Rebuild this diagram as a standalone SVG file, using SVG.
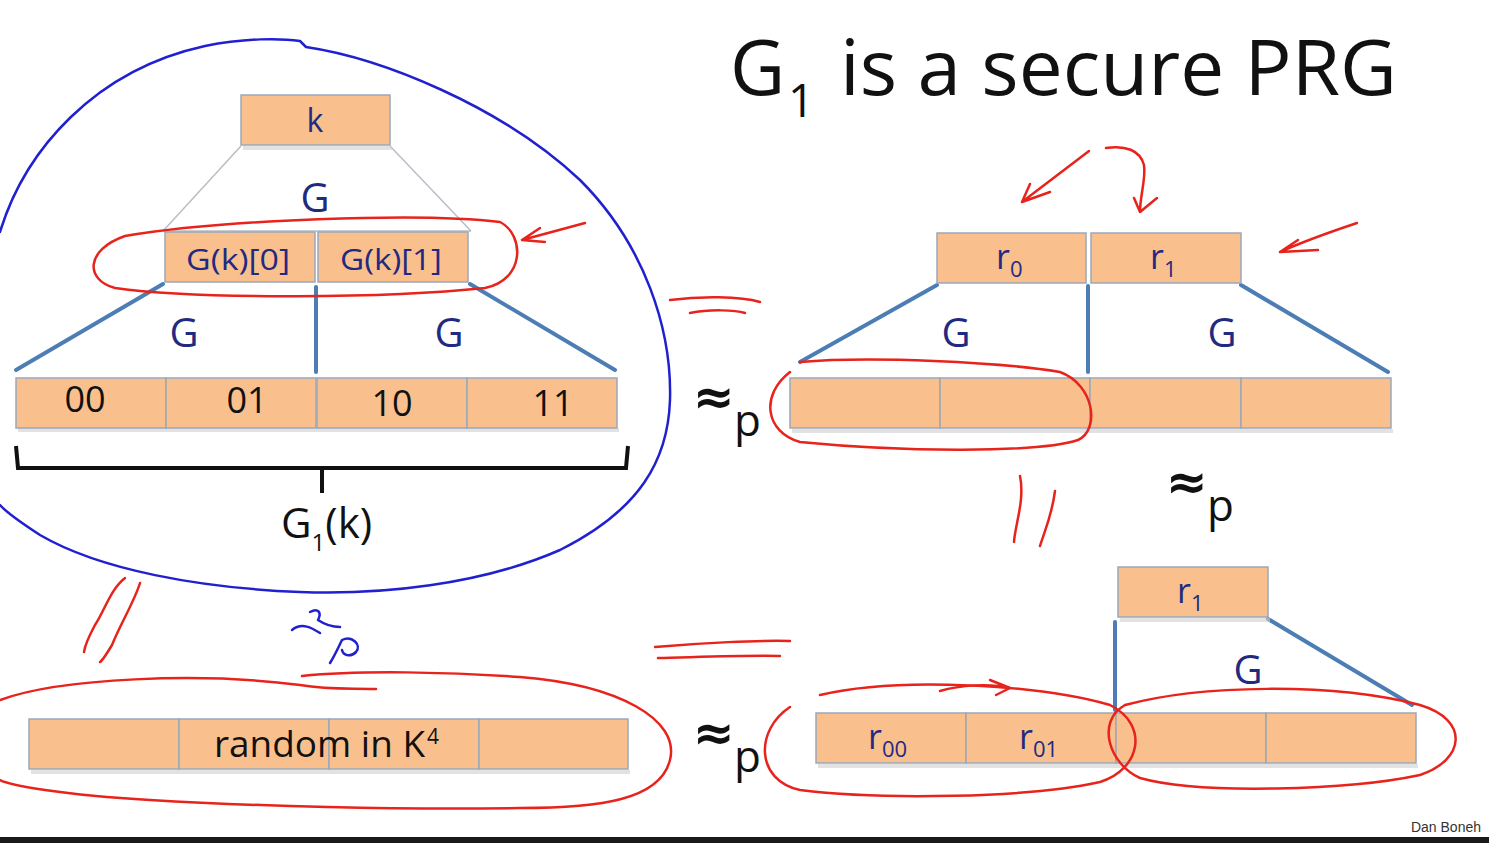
<svg xmlns="http://www.w3.org/2000/svg" width="1489" height="843" viewBox="0 0 1489 843">
<defs>
<style>
.box{fill:#F9C08E;stroke:#9AA8BB;stroke-width:1.5}
.shadow{fill:#cfcfcf;opacity:0.6}
.navy{font-family:"Open Sans","Liberation Sans",sans-serif;fill:#1F2A80}
.blk{font-family:"Open Sans","Liberation Sans",sans-serif;fill:#111}
.apx{font-family:"DejaVu Sans",sans-serif;font-weight:bold;fill:#111;font-size:50px}
.bl{stroke:#4C7DB5;stroke-width:4;fill:none;stroke-linecap:round}
.gl{stroke:#B9BEC5;stroke-width:1.5;fill:none}
.red{stroke:#E8231C;stroke-width:2.5;fill:none;stroke-linecap:round;stroke-linejoin:round}
.blue{stroke:#2020D0;stroke-width:2.5;fill:none;stroke-linecap:round;stroke-linejoin:round}
</style>
</defs>
<rect width="1489" height="843" fill="#ffffff"/>
<rect x="0" y="837" width="1489" height="6" fill="#1a1a1a"/>

<g id="title">
<text class="blk" x="730" y="95" font-size="76">G</text>
<text class="blk" x="788" y="117" font-size="46">1</text>
<text class="blk" x="840" y="95" font-size="76" textLength="557" lengthAdjust="spacingAndGlyphs">is a secure PRG</text>
</g>

<g id="connectors">
<line class="gl" x1="241" y1="146" x2="163" y2="231"/>
<line class="gl" x1="390" y1="146" x2="471" y2="231"/>
<line class="gl" x1="163" y1="231" x2="471" y2="231"/>
<line class="bl" x1="163" y1="284" x2="16" y2="370"/>
<line class="bl" x1="316" y1="287" x2="316" y2="372"/>
<line class="bl" x1="470" y1="284" x2="615" y2="370"/>
<line class="bl" x1="937" y1="285" x2="800" y2="362"/>
<line class="bl" x1="1088" y1="286" x2="1088" y2="372"/>
<line class="bl" x1="1241" y1="285" x2="1388" y2="372"/>
<line class="bl" x1="1115" y1="622" x2="1115" y2="710"/>
<line class="bl" x1="1268" y1="619" x2="1412" y2="705"/>
</g>

<g id="node-k">
<rect class="shadow" x="243" y="146" width="149" height="4"/>
<rect class="box" x="241" y="95" width="149" height="50"/>
<text class="navy" x="315" y="132" font-size="32" text-anchor="middle">k</text>
</g>
<text class="navy" x="315" y="212" font-size="40" text-anchor="middle">G</text>

<g id="node-gk0">
<rect class="box" x="165" y="232" width="150" height="50"/>
<text class="navy" x="186" y="270" font-size="30" textLength="104" lengthAdjust="spacingAndGlyphs">G(k)[0]</text>
</g>
<g id="node-gk1">
<rect class="box" x="318" y="232" width="150" height="50"/>
<text class="navy" x="340" y="270" font-size="30" textLength="102" lengthAdjust="spacingAndGlyphs">G(k)[1]</text>
</g>
<text class="navy" x="184" y="347" font-size="40" text-anchor="middle">G</text>
<text class="navy" x="449" y="347" font-size="40" text-anchor="middle">G</text>

<g id="node-row1">
<rect class="shadow" x="18" y="428" width="601" height="4"/>
<rect class="box" x="16" y="378" width="150" height="50"/>
<rect class="box" x="166" y="378" width="150" height="50"/>
<rect class="box" x="317" y="378" width="150" height="50"/>
<rect class="box" x="467" y="378" width="150" height="50"/>
<text class="blk" x="85" y="412" font-size="36" text-anchor="middle">00</text>
<text class="blk" x="247" y="413" font-size="36" text-anchor="middle">01</text>
<text class="blk" x="392" y="416" font-size="36" text-anchor="middle">10</text>
<text class="blk" x="553" y="416" font-size="36" text-anchor="middle">11</text>
</g>

<g id="brace">
<path d="M16,446 L18,468 L626,468 L628,446 M322,468 L322,493" stroke="#111" stroke-width="4" fill="none"/>
<text class="blk" x="281" y="538" font-size="42">G<tspan font-size="24" dy="13">1</tspan><tspan dy="-13">(k)</tspan></text>
</g>

<g id="node-r0">
<rect class="box" x="937" y="233" width="149" height="50"/>
<text class="navy" x="996" y="269" font-size="34">r<tspan font-size="22" dy="8">0</tspan></text>
</g>
<g id="node-r1">
<rect class="box" x="1091" y="233" width="150" height="50"/>
<text class="navy" x="1150" y="269" font-size="34">r<tspan font-size="22" dy="8">1</tspan></text>
</g>
<text class="navy" x="956" y="347" font-size="40" text-anchor="middle">G</text>
<text class="navy" x="1222" y="347" font-size="40" text-anchor="middle">G</text>

<g id="node-row2">
<rect class="shadow" x="792" y="429" width="601" height="4"/>
<rect class="box" x="790" y="378" width="150" height="50"/>
<rect class="box" x="940" y="378" width="150" height="50"/>
<rect class="box" x="1090" y="378" width="151" height="50"/>
<rect class="box" x="1241" y="378" width="150" height="50"/>
</g>

<g id="node-r1b">
<rect class="shadow" x="1120" y="618" width="150" height="4"/>
<rect class="box" x="1118" y="567" width="150" height="50"/>
<text class="navy" x="1177" y="603" font-size="34">r<tspan font-size="22" dy="8">1</tspan></text>
</g>
<text class="navy" x="1248" y="684" font-size="40" text-anchor="middle">G</text>

<g id="node-row3">
<rect class="shadow" x="818" y="764" width="600" height="4"/>
<rect class="box" x="816" y="713" width="150" height="50"/>
<rect class="box" x="966" y="713" width="150" height="50"/>
<rect class="box" x="1116" y="713" width="150" height="50"/>
<rect class="box" x="1266" y="713" width="150" height="50"/>
<text class="navy" x="868" y="749" font-size="34">r<tspan font-size="22" dy="8">00</tspan></text>
<text class="navy" x="1019" y="749" font-size="34">r<tspan font-size="22" dy="8">01</tspan></text>
</g>

<g id="node-random">
<rect class="shadow" x="31" y="770" width="599" height="4"/>
<rect class="box" x="29" y="719" width="150" height="50"/>
<rect class="box" x="179" y="719" width="150" height="50"/>
<rect class="box" x="329" y="719" width="150" height="50"/>
<rect class="box" x="479" y="719" width="149" height="50"/>
<text class="blk" x="214" y="757" font-size="36" textLength="211" lengthAdjust="spacingAndGlyphs">random in K</text>
<text class="blk" x="427" y="744" font-size="21">4</text>
</g>

<g id="approx">
<text class="apx" x="693" y="414">≈</text>
<text class="blk" x="734" y="436" font-size="44">p</text>
<text class="apx" x="1166" y="499">≈</text>
<text class="blk" x="1207" y="521" font-size="44">p</text>
<text class="apx" x="693" y="750">≈</text>
<text class="blk" x="734" y="772" font-size="44">p</text>
</g>

<text x="1481" y="832" font-family="'Liberation Sans',sans-serif" font-size="14" fill="#333" text-anchor="end">Dan Boneh</text>

<g id="annotations">
<path class="blue" d="M0,232 C25,150 95,70 205,46 C245,38 280,38 300,41 L306,47 C380,58 500,105 580,180 C645,245 672,330 670,400 C668,460 640,510 560,550 C480,585 380,595 300,592 C200,588 100,570 40,535 C20,522 6,512 0,505"/>
<path class="red" d="M125,236 C220,220 420,212 500,222 C525,235 525,280 485,288 C390,298 200,300 115,288 C85,280 85,250 125,236"/>
<path class="red" d="M585,223 L522,240 M540,228 L522,240 L545,242"/>
<path class="red" d="M670,300 C700,296 740,296 760,302 M690,313 C710,309 735,310 745,313"/>
<path class="red" d="M1089,151 L1022,202 M1050,192 L1022,202 L1030,184"/>
<path class="red" d="M1106,148 C1125,145 1140,150 1144,165 C1146,180 1140,195 1140,212 M1134,198 L1140,212 L1157,198"/>
<path class="red" d="M1357,223 C1330,232 1300,243 1280,252 M1298,240 L1280,252 L1318,250"/>
<path class="red" d="M800,362 C870,356 1000,362 1060,372 C1095,385 1100,430 1078,440 C1040,453 900,452 800,442 C765,432 760,395 790,372"/>
<path class="red" d="M1020,476 C1025,500 1015,525 1014,542 M1055,491 C1052,515 1045,530 1040,546"/>
<path class="red" d="M125,578 C110,590 105,610 95,625 C88,638 85,645 84,652 M140,583 C135,600 120,625 112,645 C106,655 103,660 100,662"/>
<path class="blue" d="M310,612 C318,608 322,612 318,620 C324,624 330,627 340,627 M292,630 C302,622 312,628 320,633 M330,663 C335,655 338,648 342,640 C352,635 362,645 356,652 C350,658 343,655 342,650"/>
<path class="red" d="M0,700 C60,678 200,672 300,685 C330,690 350,688 376,689 M302,676 C360,670 450,672 520,677 C620,685 680,720 670,760 C660,800 600,808 520,808 C400,810 250,806 150,800 C60,795 10,785 0,780"/>
<path class="red" d="M655,647 C700,643 760,640 790,641 M658,658 C700,657 750,655 780,656"/>
<path class="red" d="M940,691 C960,685 990,683 1010,688 M990,680 L1010,688 L996,695"/>
<path class="red" d="M820,695 C900,676 1040,685 1110,705 C1150,725 1140,770 1100,782 C1030,798 880,800 800,790 C755,780 755,730 790,707"/>
<path class="red" d="M1125,705 C1200,685 1330,682 1420,705 C1470,720 1465,760 1420,775 C1350,790 1200,795 1140,778 C1110,765 1095,722 1125,705"/>
</g>
</svg>
